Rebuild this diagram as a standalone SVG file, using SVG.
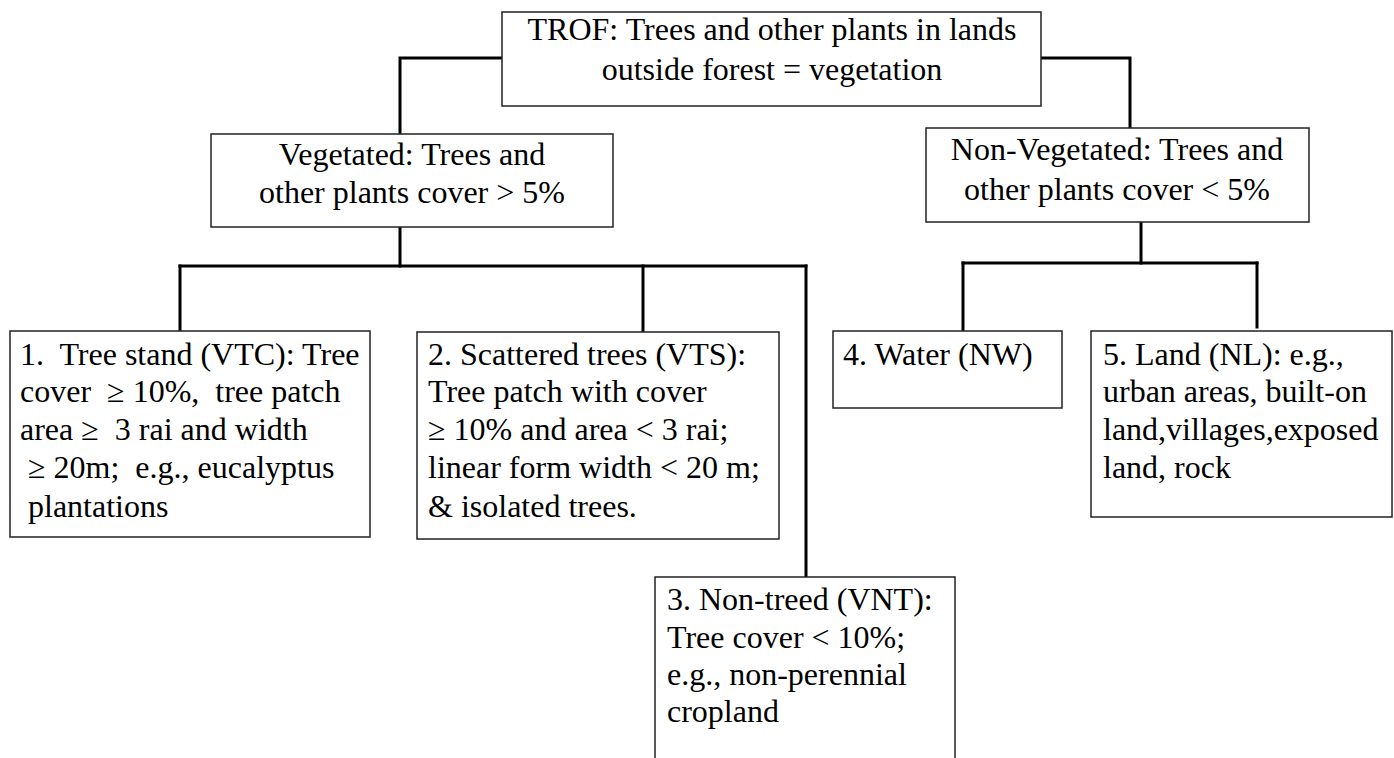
<svg xmlns="http://www.w3.org/2000/svg" width="1394" height="758" viewBox="0 0 1394 758" xml:space="preserve">
<style>
  .box { fill: #ffffff; stroke: #222; stroke-width: 1.5; }
  .conn { fill: none; stroke: #000; stroke-width: 3; stroke-linecap: square; }
  text { font-family: 'Liberation Serif', 'Times New Roman', Times, serif; font-size: 32px; fill: #000; white-space: pre; }
  .c { text-anchor: middle; }
</style>
<rect width="1394" height="758" fill="#ffffff"/>
<g id="connectors">
  <polyline class="conn" points="502,58 400,58 400,134"/>
  <polyline class="conn" points="1041,58 1130,58 1130,128"/>
  <line class="conn" x1="400" y1="227" x2="400" y2="266"/>
  <line class="conn" x1="180" y1="266" x2="806" y2="266"/>
  <line class="conn" x1="180" y1="266" x2="180" y2="331"/>
  <line class="conn" x1="643" y1="266" x2="643" y2="332"/>
  <line class="conn" x1="806" y1="266" x2="806" y2="577"/>
  <line class="conn" x1="1141" y1="222" x2="1141" y2="263"/>
  <line class="conn" x1="963" y1="263" x2="1257" y2="263"/>
  <line class="conn" x1="963" y1="263" x2="963" y2="330"/>
  <line class="conn" x1="1257" y1="263" x2="1257" y2="327"/>
</g>
<g id="trof">
  <rect class="box" x="502" y="12" width="539" height="94"/>
  <text class="c" x="772" y="40">TROF: Trees and other plants in lands</text>
  <text class="c" x="772" y="80">outside forest = vegetation</text>
</g>
<g id="vegetated">
  <rect class="box" x="211" y="134" width="402" height="93"/>
  <text class="c" x="412" y="165">Vegetated: Trees and</text>
  <text class="c" x="412" y="203">other plants cover &gt; 5%</text>
</g>
<g id="nonvegetated">
  <rect class="box" x="926" y="128" width="383" height="94"/>
  <text class="c" x="1117" y="160">Non-Vegetated: Trees and</text>
  <text class="c" x="1117" y="200">other plants cover &lt; 5%</text>
</g>
<g id="vtc">
  <rect class="box" x="10" y="331" width="360" height="206"/>
  <text x="20" y="365">1.  Tree stand (VTC): Tree</text>
  <text x="20" y="402">cover  ≥ 10%,  tree patch</text>
  <text x="20" y="440">area ≥  3 rai and width</text>
  <text x="20" y="478"> ≥ 20m;  e.g., eucalyptus</text>
  <text x="20" y="517"> plantations</text>
</g>
<g id="vts">
  <rect class="box" x="417" y="332" width="362" height="207"/>
  <text x="428" y="365">2. Scattered trees (VTS):</text>
  <text x="428" y="402">Tree patch with cover</text>
  <text x="428" y="440">≥ 10% and area &lt; 3 rai;</text>
  <text x="428" y="478">linear form width &lt; 20 m;</text>
  <text x="428" y="517">&amp; isolated trees.</text>
</g>
<g id="vnt">
  <rect class="box" x="655" y="577" width="300" height="200"/>
  <text x="667" y="610">3. Non-treed (VNT):</text>
  <text x="667" y="648">Tree cover &lt; 10%;</text>
  <text x="667" y="685">e.g., non-perennial</text>
  <text x="667" y="722">cropland</text>
</g>
<g id="nw">
  <rect class="box" x="833" y="331" width="229" height="77"/>
  <text x="843" y="365">4. Water (NW)</text>
</g>
<g id="nl">
  <rect class="box" x="1091" y="331" width="301" height="186"/>
  <text x="1103" y="365">5. Land (NL): e.g.,</text>
  <text x="1103" y="402">urban areas, built-on</text>
  <text x="1103" y="440">land,villages,exposed</text>
  <text x="1103" y="478">land, rock</text>
</g>
</svg>
